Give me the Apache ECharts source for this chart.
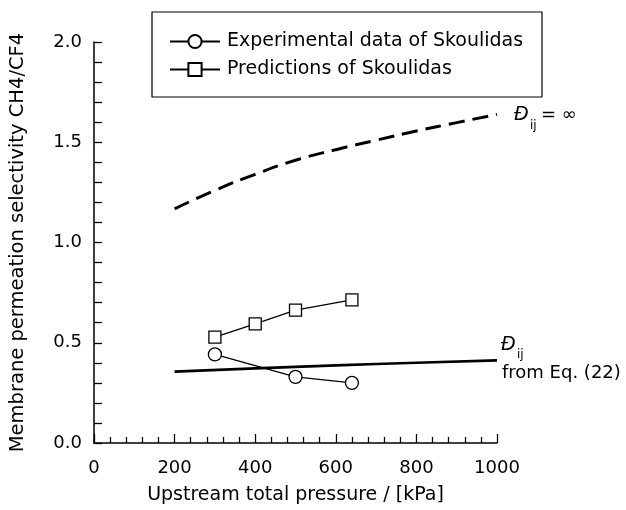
<!DOCTYPE html>
<html>
<head>
<meta charset="utf-8">
<script src="https://cdn.jsdelivr.net/npm/echarts@6/dist/echarts.min.js"></script>
<style>html,body{margin:0;padding:0;background:#fff}#c{width:626px;height:510px}</style>
</head>
<body>
<div id="c"></div>
<script>
// Data
const infX = [200, 300, 400, 500, 600, 700, 800, 900, 1000];
const infY = [1.168, 1.26, 1.34, 1.41, 1.463, 1.51, 1.556, 1.598, 1.639];
const eqX = [200, 400, 600, 800, 1000];
const eqY = [0.356, 0.372, 0.387, 0.400, 0.412];
const expX = [300, 500, 640];
const expY = [0.442, 0.330, 0.300];
const predX = [300, 400, 500, 640];
const predY = [0.528, 0.594, 0.663, 0.714];
const xTicks = [0, 200, 400, 600, 800, 1000];
const yTicks = [0.0, 0.5, 1.0, 1.5, 2.0];

const zip = (a, b) => a.map((v, i) => [v, b[i]]);
const FONT = 'DejaVu Sans';

const chart = echarts.init(document.getElementById('c'), null, {renderer: 'canvas'});
chart.setOption({
  animation: false,
  backgroundColor: '#fff',
  textStyle: {fontFamily: FONT, color: '#000'},
  grid: {left: 92, right: 129, top: 42, bottom: 64, containLabel: false},
  xAxis: {
    type: 'value', min: 0, max: 1000, interval: 200,
    name: 'Upstream total pressure / [kPa]', nameLocation: 'middle', nameGap: 43,
    nameTextStyle: {fontFamily: FONT, fontSize: 19, color: '#000'},
    axisLine: {show: true, onZero: false, lineStyle: {color: '#000', width: 1.5}},
    axisTick: {show: true, inside: true, length: 9, lineStyle: {color: '#000', width: 1.3}},
    minorTick: {show: true, splitNumber: 5, length: 6, lineStyle: {color: '#000', width: 1.3}},
    splitLine: {show: false},
    axisLabel: {margin: 16, fontFamily: FONT, fontSize: 18, color: '#000',
      formatter: v => xTicks.includes(v) ? String(v) : ''}
  },
  yAxis: {
    type: 'value', min: 0, max: 2, interval: 0.5,
    name: 'Membrane permeation selectivity CH4/CF4', nameLocation: 'middle', nameGap: 66,
    nameTextStyle: {fontFamily: FONT, fontSize: 19.5, color: '#000'},
    axisLine: {show: true, onZero: false, lineStyle: {color: '#000', width: 1.5}},
    axisTick: {show: true, inside: true, length: 8, lineStyle: {color: '#000', width: 1.3}},
    minorTick: {show: true, splitNumber: 5, length: 8, lineStyle: {color: '#000', width: 1.3}},
    splitLine: {show: false},
    axisLabel: {margin: 12, fontFamily: FONT, fontSize: 18, color: '#000',
      formatter: v => yTicks.includes(v) ? v.toFixed(1) : ''}
  },
  legend: {
    orient: 'vertical', left: 164, top: 27, padding: 5, itemWidth: 50, itemHeight: 16.5, itemGap: 9,
    data: ['Experimental data of Skoulidas', 'Predictions of Skoulidas'],
    textStyle: {fontFamily: FONT, fontSize: 19, color: '#000', padding: [0, 0, 0, 2]}
  },
  series: [
    {
      name: 'inf', type: 'line', data: zip(infX, infY), smooth: true, showSymbol: false, symbol: 'none',
      lineStyle: {color: '#000', width: 3, type: [16, 8]}, silent: true
    },
    {
      name: 'eq22', type: 'line', data: zip(eqX, eqY), smooth: true, showSymbol: false, symbol: 'none',
      lineStyle: {color: '#000', width: 2.6}, silent: true
    },
    {
      name: 'Experimental data of Skoulidas', type: 'line', data: zip(expX, expY),
      symbol: 'circle', symbolSize: 13,
      lineStyle: {color: '#000', width: 1.3},
      itemStyle: {color: '#fff', borderColor: '#000', borderWidth: 1.3}, z: 5
    },
    {
      name: 'Predictions of Skoulidas', type: 'line', data: zip(predX, predY),
      symbol: 'rect', symbolSize: 12,
      lineStyle: {color: '#000', width: 1.3},
      itemStyle: {color: '#fff', borderColor: '#000', borderWidth: 1.3}, z: 5
    }
  ],
  graphic: [
    {type: 'rect', shape: {x: 152, y: 12, width: 390, height: 85},
      style: {fill: 'none', stroke: '#000', lineWidth: 1.2}, z: 10},
    {type: 'text', left: 514, top: 106, style: {text: 'Đ', font: 'italic 19px "DejaVu Sans"', fill: '#000'}},
    {type: 'text', left: 530, top: 120, style: {text: 'ij', font: '12px "DejaVu Sans"', fill: '#000'}},
    {type: 'text', left: 541, top: 106, style: {text: '= ∞', font: '18px "DejaVu Sans"', fill: '#000'}},
    {type: 'text', left: 501, top: 336, style: {text: 'Đ', font: 'italic 19px "DejaVu Sans"', fill: '#000'}},
    {type: 'text', left: 517, top: 349, style: {text: 'ij', font: '12px "DejaVu Sans"', fill: '#000'}},
    {type: 'text', left: 502, top: 364, style: {text: 'from Eq. (22)', font: '18px "DejaVu Sans"', fill: '#000'}}
  ]
});
</script>
</body>
</html>
